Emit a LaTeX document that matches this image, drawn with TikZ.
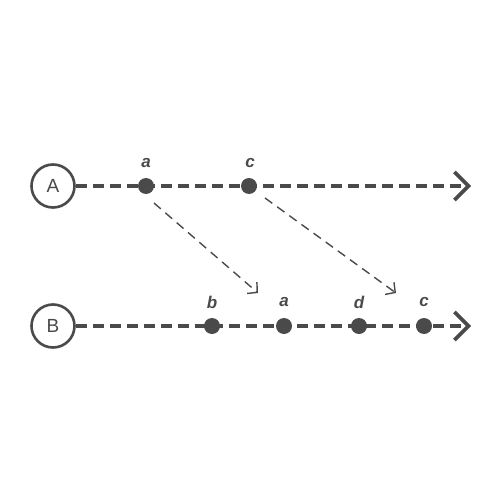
\documentclass[tikz,border=0pt]{standalone}
\usepackage{fontspec}
\setmainfont{Liberation Sans}
\usetikzlibrary{arrows.meta}
\definecolor{ink}{HTML}{4A4A4A}
\tikzset{
  proc/.style={circle, draw=ink, line width=2.6pt, minimum size=43pt, inner sep=0pt, text=ink, font=\fontsize{19}{19}\selectfont},
  timeline/.style={draw=ink, line width=4pt, dash pattern=on 11pt off 6pt, -{Straight Barb[length=14pt,width=28pt,line width=3.6pt]}},
  ev/.style={circle, fill=ink, minimum size=16pt, inner sep=0pt},
  evlabel/.style={text=ink, font=\fontsize{17}{17}\selectfont\bfseries\itshape},
  msg/.style={draw=ink, line width=1.4pt, dash pattern=on 9pt off 6pt, -{Straight Barb[length=7pt,width=15pt,line width=1.4pt]}}
}
\begin{document}
\begin{tikzpicture}[x=1pt,y=-1pt]
\useasboundingbox (0,0) rectangle (500,500);
\node[proc] (A) at (53,186) {A};
\node[proc] (B) at (53,326) {B};
\coordinate (Aend) at (471,186);
\coordinate (Bend) at (471,326);
\draw[timeline] (A.east) -- (Aend);
\draw[timeline] (B.east) -- (Bend);
\node[ev] (Aa) at (146,186) {};
\node[ev] (Ac) at (249,186) {};
\node[ev] (Bb) at (212,326) {};
\node[ev] (Ba) at (284,326) {};
\node[ev] (Bd) at (359,326) {};
\node[ev] (Bc) at (424,326) {};
\node[evlabel] (lAa) at (146,163) {a};
\node[evlabel] (lAc) at (250,163) {c};
\node[evlabel] (lBb) at (212,302) {b};
\node[evlabel] (lBa) at (284,302) {a};
\node[evlabel] (lBd) at (359,302) {d};
\node[evlabel] (lBc) at (424,302) {c};
\coordinate (s1) at (154,203);
\coordinate (e1) at (258,293);
\coordinate (s2) at (265,198);
\coordinate (e2) at (396,293);
\draw[msg] (s1) -- (e1);
\draw[msg] (s2) -- (e2);
\end{tikzpicture}
\end{document}
